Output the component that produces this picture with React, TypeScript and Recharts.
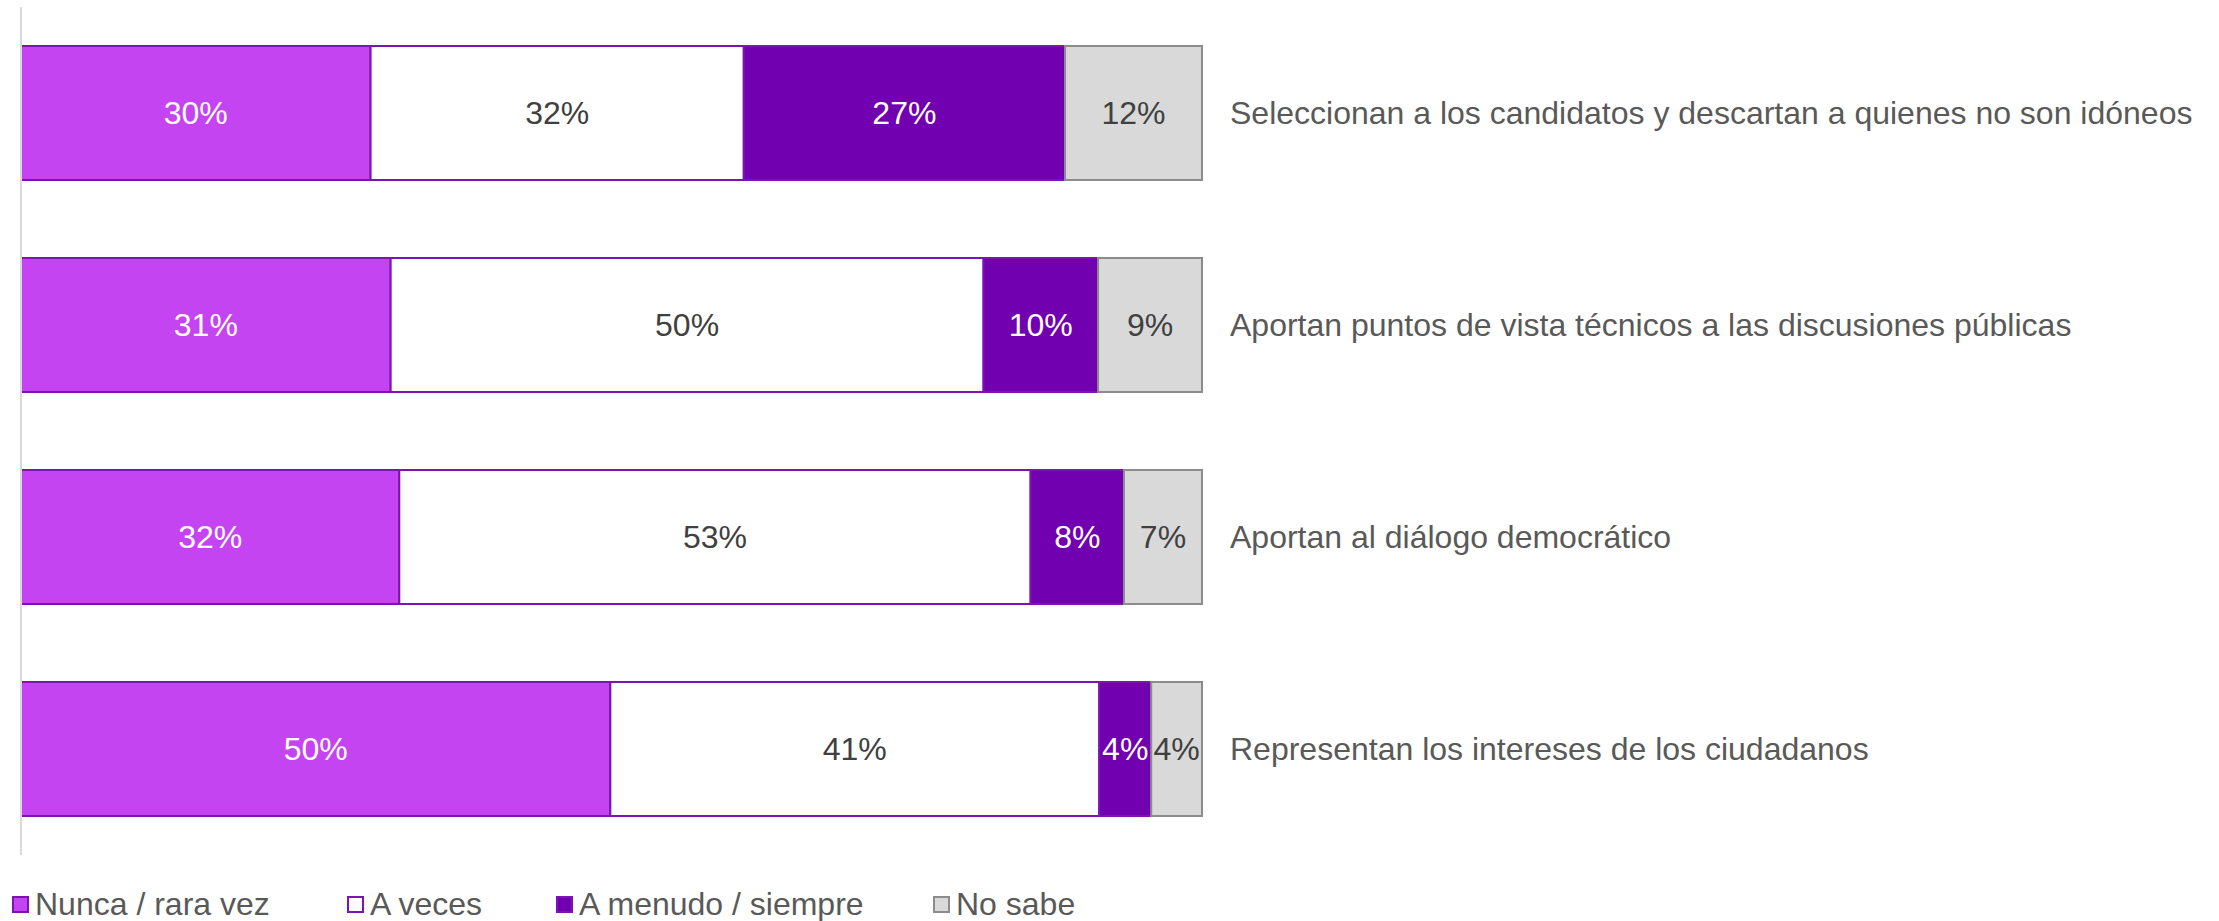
import React from 'react';
import { BarChart, Bar, XAxis, YAxis, Legend, LabelList, ReferenceLine } from 'recharts';

const categories = [
  'Seleccionan a los candidatos y descartan a quienes no son idóneos',
  'Aportan puntos de vista técnicos a las discusiones públicas',
  'Aportan al diálogo democrático',
  'Representan los intereses de los ciudadanos',
];
const nunca = [29.6, 31.3, 32.0, 49.9];
const aVeces = [31.6, 50.2, 53.4, 41.4];
const aMenudo = [27.2, 9.7, 7.9, 4.4];
const noSabe = [11.6, 8.8, 6.6, 4.3];

const seriesNames = ['Nunca / rara vez', 'A veces', 'A menudo / siempre', 'No sabe'];

const data = categories.map((name, i) => ({
  name,
  nunca: nunca[i],
  aVeces: aVeces[i],
  aMenudo: aMenudo[i],
  noSabe: noSabe[i],
}));

const series = [
  { key: 'nunca', name: seriesNames[0], fill: '#C544F2', stroke: '#7C14B3', label: '#FFFFFF' },
  { key: 'aVeces', name: seriesNames[1], fill: '#FFFFFF', stroke: '#7C14B3', label: '#404040' },
  { key: 'aMenudo', name: seriesNames[2], fill: '#7000B0', stroke: '#7C14B3', label: '#FFFFFF' },
  { key: 'noSabe', name: seriesNames[3], fill: '#D9D9D9', stroke: '#8C8C8C', label: '#404040' },
];

const legendWidths = [335, 209, 377, 200];

const LegendContent = () => (
  <div style={{ display: 'flex', alignItems: 'center', height: 34, paddingLeft: 12, fontFamily: 'Liberation Sans, Arial, sans-serif', fontSize: 32, color: '#595959' }}>
    {series.map((s, i) => (
      <div key={s.key} style={{ display: 'flex', alignItems: 'center', width: legendWidths[i] }}>
        <span style={{ display: 'inline-block', width: 13, height: 13, background: s.fill, border: `2px solid ${s.stroke}`, marginRight: 6 }} />
        <span style={{ whiteSpace: 'nowrap', lineHeight: '34px' }}>{s.name}</span>
      </div>
    ))}
  </div>
);

export default function App() {
  return (
    <div style={{ position: 'absolute', left: 0, top: 0, width: 2219, height: 921, background: '#FFFFFF' }}>
      <BarChart
        width={2219}
        height={921}
        data={data}
        layout="vertical"
        stackOffset="expand"
        barCategoryGap="18.4%"
        margin={{ top: 7, right: 17, left: 21, bottom: 32 }}
        style={{ fontFamily: 'Liberation Sans, Arial, sans-serif' }}
      >
        <XAxis type="number" hide domain={[0, 1]} />
        <YAxis
          type="category"
          dataKey="name"
          orientation="right"
          width={1000}
          axisLine={false}
          tickLine={false}
          tickMargin={22}
          tick={{ fill: '#595959', fontSize: 32, textAnchor: 'start' }}
        />
        <ReferenceLine x={0} stroke="#D9D9D9" strokeWidth={2} />
        {series.map((s) => (
          <Bar
            key={s.key}
            dataKey={s.key}
            name={s.name}
            stackId="a"
            fill={s.fill}
            stroke={s.stroke}
            strokeWidth={2}
            isAnimationActive={false}
          >
            <LabelList
              dataKey={s.key}
              position="center"
              formatter={(v: any) => `${Math.round(Number(v))}%`}
              fill={s.label}
              fontSize={32}
            />
          </Bar>
        ))}
        <Legend
          verticalAlign="bottom"
          content={<LegendContent />}
          wrapperStyle={{ left: 0, bottom: 0, width: 1400, height: 34 }}
        />
      </BarChart>
    </div>
  );
}
